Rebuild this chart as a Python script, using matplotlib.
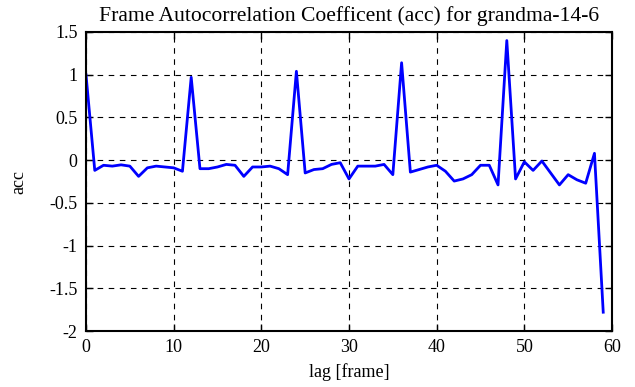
import matplotlib
matplotlib.use("Agg")
import matplotlib.pyplot as plt
import numpy as np

# lag values and autocorrelation
lags = np.arange(60)
acc = [1.0, -0.12, -0.06, -0.07, -0.055, -0.07, -0.19, -0.09, -0.07, -0.08,
       -0.09, -0.13, 0.97, -0.10, -0.10, -0.08, -0.05, -0.06, -0.19, -0.08,
       -0.08, -0.07, -0.10, -0.17, 1.04, -0.15, -0.11, -0.10, -0.05, -0.03,
       -0.22, -0.07, -0.07, -0.07, -0.05, -0.17, 1.14, -0.14, -0.11, -0.08,
       -0.06, -0.13, -0.245, -0.22, -0.17, -0.06, -0.06, -0.29, 1.40, -0.22,
       -0.02, -0.12, -0.01, -0.15, -0.29, -0.17, -0.23, -0.27, 0.08, -1.78]
xticks = [0, 10, 20, 30, 40, 50, 60]
yticks = [-2, -1.5, -1, -0.5, 0, 0.5, 1, 1.5]

plt.rcParams['font.family'] = ['Liberation Serif', 'DejaVu Serif']
plt.rcParams['axes.unicode_minus'] = False
plt.rcParams['font.size'] = 13

fig = plt.figure(figsize=(6.35, 3.87), dpi=100)
ax = fig.add_axes([86 / 635, 1 - 331 / 387, 526 / 635, 299 / 387])

ax.plot(lags, acc, color='#0000ff', linewidth=2)

ax.set_xlim(0, 60)
ax.set_ylim(-2, 1.5)
ax.set_xticks(xticks)
ax.set_yticks(yticks)
ax.set_yticklabels(['%g' % v for v in yticks])
ax.grid(True, color='black', linestyle=(0, (5, 5)), linewidth=0.8)
ax.tick_params(direction='in', top=True, right=True, length=5, width=1, pad=6)
for s in ax.spines.values():
    s.set_linewidth(1.5)

ax.set_xlabel('lag [frame]', labelpad=5)
ax.set_ylabel('acc', labelpad=16)
ax.set_title('Frame Autocorrelation Coefficent (acc) for grandma-14-6', pad=8)

fig.savefig('out.png', dpi=100)
plt.close(fig)
